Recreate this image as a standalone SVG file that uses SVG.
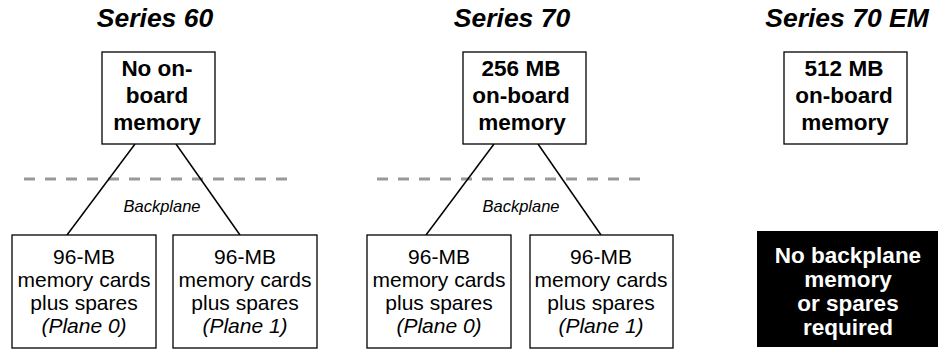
<svg xmlns="http://www.w3.org/2000/svg" width="940" height="349" viewBox="0 0 940 349">
<style>
.title{font-family:"Liberation Sans",Arial,sans-serif;font-size:26.5px;font-weight:bold;font-style:italic;text-anchor:middle;fill:#000}
.top{font-family:"Liberation Sans",Arial,sans-serif;font-size:22.5px;font-weight:bold;text-anchor:middle;fill:#000}
.card{font-family:"Liberation Sans",Arial,sans-serif;font-size:21px;text-anchor:middle;fill:#000}
.it{font-style:italic}
.bp{font-family:"Liberation Sans",Arial,sans-serif;font-size:16.5px;font-style:italic;text-anchor:middle;fill:#000}
.inv{font-family:"Liberation Sans",Arial,sans-serif;font-size:22.5px;font-weight:bold;text-anchor:middle;fill:#fff}
.box{fill:#fff;stroke:#000;stroke-width:1.3}
.dash{stroke:#999;stroke-width:3;stroke-dasharray:11 10;fill:none}
.conn{stroke:#000;stroke-width:1.5;fill:none}
</style>
<g id="titles">
<text class="title" x="155" y="27">Series 60</text>
<text class="title" x="512" y="27">Series 70</text>
<text class="title" x="847" y="27">Series 70 EM</text>
</g>
<g id="backplanes">
<line class="dash" x1="24" y1="179" x2="290" y2="179"/>
<line class="dash" x1="377" y1="179" x2="648" y2="179"/>
<text class="bp" x="162" y="212">Backplane</text>
<text class="bp" x="521" y="212">Backplane</text>
</g>
<g id="connectors">
<line class="conn" x1="135" y1="144" x2="67" y2="235"/>
<line class="conn" x1="176" y1="144" x2="240" y2="235"/>
<line class="conn" x1="494" y1="144" x2="426" y2="235"/>
<line class="conn" x1="538" y1="144" x2="601" y2="235"/>
</g>
<g id="s60-main">
<rect class="box" x="102" y="52" width="113" height="92"/>
<text class="top" x="157" y="76">No on-</text>
<text class="top" x="157" y="103">board</text>
<text class="top" x="157" y="130">memory</text>
</g>
<g id="s70-main">
<rect class="box" x="463" y="52" width="123" height="92"/>
<text class="top" x="521" y="76">256 MB</text>
<text class="top" x="521" y="103">on-board</text>
<text class="top" x="522" y="130">memory</text>
</g>
<g id="s70em-main">
<rect class="box" x="784" y="52" width="123" height="92"/>
<text class="top" x="844" y="76">512 MB</text>
<text class="top" x="844" y="103">on-board</text>
<text class="top" x="845" y="130">memory</text>
</g>
<g id="s60-plane0">
<rect class="box" x="12" y="235" width="144" height="113"/>
<text class="card" x="84" y="264">96-MB</text>
<text class="card" x="84" y="287">memory cards</text>
<text class="card" x="84" y="310">plus spares</text>
<text class="card it" x="84" y="333">(Plane 0)</text>
</g>
<g id="s60-plane1">
<rect class="box" x="173" y="235" width="144" height="113"/>
<text class="card" x="245" y="264">96-MB</text>
<text class="card" x="245" y="287">memory cards</text>
<text class="card" x="245" y="310">plus spares</text>
<text class="card it" x="245" y="333">(Plane 1)</text>
</g>
<g id="s70-plane0">
<rect class="box" x="367" y="235" width="144" height="113"/>
<text class="card" x="439" y="264">96-MB</text>
<text class="card" x="439" y="287">memory cards</text>
<text class="card" x="439" y="310">plus spares</text>
<text class="card it" x="439" y="333">(Plane 0)</text>
</g>
<g id="s70-plane1">
<rect class="box" x="530" y="235" width="143" height="113"/>
<text class="card" x="601" y="264">96-MB</text>
<text class="card" x="601" y="287">memory cards</text>
<text class="card" x="601" y="310">plus spares</text>
<text class="card it" x="601" y="333">(Plane 1)</text>
</g>
<g id="s70em-none">
<rect x="757" y="231" width="181" height="116" fill="#000"/>
<text class="inv" x="848" y="263">No backplane</text>
<text class="inv" x="848" y="287">memory</text>
<text class="inv" x="848" y="311">or spares</text>
<text class="inv" x="848" y="335">required</text>
</g>
</svg>
